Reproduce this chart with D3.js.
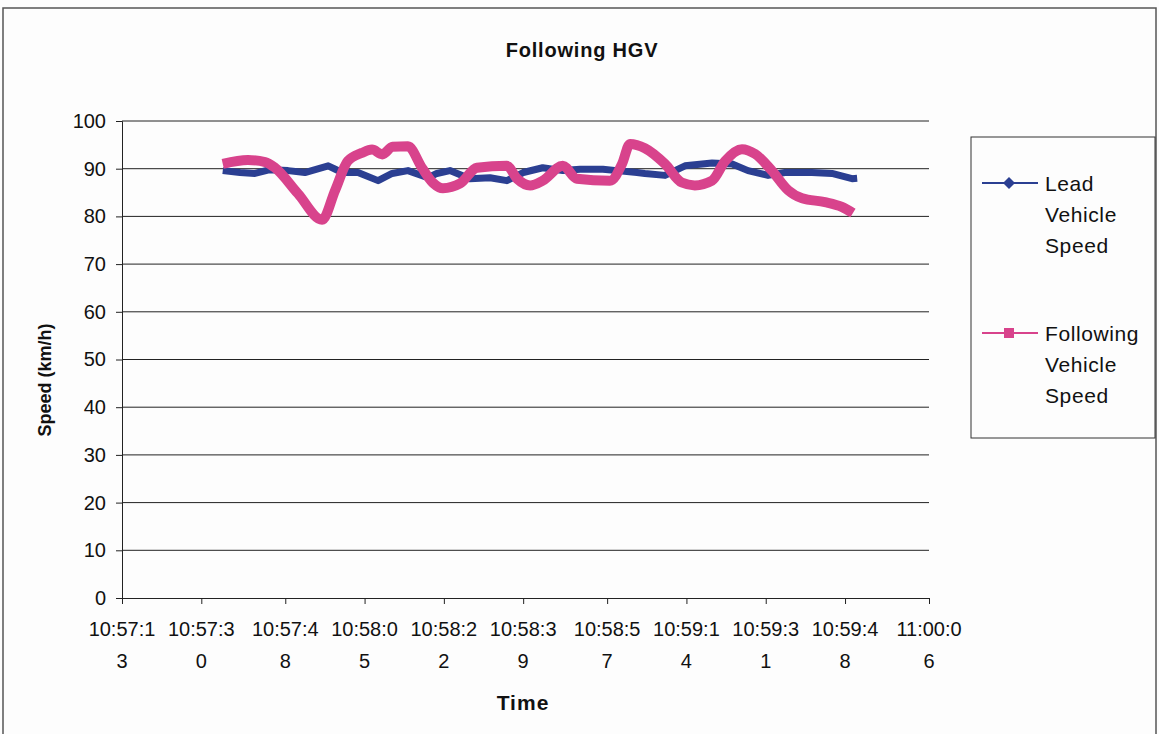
<!DOCTYPE html>
<html>
<head>
  <meta charset="utf-8">
  <script src="https://d3js.org/d3.v7.min.js"></script>
  <style>
    body { margin: 0; background: #fdfdfd; }
    text { font-family: Arial, "Liberation Sans", sans-serif; fill: #111; }
  </style>
</head>
<body>
<script>
  // tick labels on the time axis (Excel wraps them after 7 chars)
  var timeLabels = ["10:57:13", "10:57:30", "10:57:48", "10:58:05", "10:58:22", "10:58:39",
                    "10:58:57", "10:59:14", "10:59:31", "10:59:48", "11:00:06"];
  var speedTicks = [0, 10, 20, 30, 40, 50, 60, 70, 80, 90, 100];

  // seconds after 10:57:13, speed in km/h
  var leadT = [21.6, 25.3, 28.5, 31.7, 35.6, 39.2, 44.2, 47.2, 50.6, 54.9, 57.9, 61.3, 65.6,
               67.5, 70.3, 74.6, 78.9, 82.5, 86.0, 90.2, 94.5, 98.2, 103.1, 106.1, 110.4,
               112.1, 116.4, 120.7, 126.5, 130.8, 134.2, 138.5, 142.1, 147.9, 152.2, 156.5, 157.6];
  var leadV = [89.6, 89.2, 89.0, 89.8, 89.6, 89.2, 90.6, 89.2, 89.2, 87.5, 89.0, 89.6, 88.1,
               89.0, 89.6, 87.9, 88.1, 87.5, 89.2, 90.2, 89.6, 89.9, 89.9, 89.6, 89.2,
               89.0, 88.6, 90.6, 91.2, 91.0, 89.6, 88.6, 89.2, 89.2, 89.0, 87.9, 88.0];

  var followT = [21.6, 27.0, 30.7, 32.8, 37.7, 42.9, 45.7, 48.4, 51.4, 53.6, 55.8, 58.0, 61.3,
                 64.3, 66.7, 68.8, 72.5, 76.1, 82.5, 84.7, 87.5, 90.2, 94.5, 97.5, 104.6, 107.2,
                 108.9, 112.1, 116.4, 120.0, 122.8, 126.5, 129.3, 132.9, 135.7, 139.3, 142.8,
                 145.8, 150.7, 154.3, 156.7];
  var followV = [91.0, 91.8, 91.4, 90.2, 84.8, 79.3, 85.5, 91.6, 93.3, 94.0, 93.0, 94.6, 94.7,
                 90.2, 87.0, 85.9, 86.9, 90.2, 90.6, 87.9, 86.5, 87.5, 90.6, 87.9, 87.5, 91.0,
                 95.2, 94.3, 91.0, 87.1, 86.5, 87.5, 91.6, 94.1, 93.1, 89.6, 85.5,
                 83.8, 83.0, 82.0, 80.7];

  var seriesNames = [["Lead", "Vehicle", "Speed"], ["Following", "Vehicle", "Speed"]];
  var colors = ["#2b3f92", "#d8438c"];

  var W = 1159, H = 734;
  var svg = d3.select("body").append("svg")
      .attr("width", W)
      .attr("height", H);

  // chart frame
  svg.append("rect")
      .attr("x", 3).attr("y", 8)
      .attr("width", 1153).attr("height", 740)
      .attr("fill", "#fdfdfd")
      .attr("stroke", "#555").attr("stroke-width", 1.5);

  function toSec(s) {
    var p = s.split(":").map(Number);
    return (p[0] * 3600 + p[1] * 60 + p[2]) - (10 * 3600 + 57 * 60 + 13);
  }
  var tickSecs = timeLabels.map(toSec);

  var x = d3.scaleLinear().domain([0, 173]).range([122, 929]);
  var y = d3.scaleLinear().domain([0, 100]).range([598, 121]);

  // gridlines
  svg.append("g").selectAll("line")
      .data(speedTicks.slice(1))
      .enter().append("line")
      .attr("x1", 122).attr("x2", 929)
      .attr("y1", function(d) { return y(d); })
      .attr("y2", function(d) { return y(d); })
      .attr("stroke", "#222").attr("stroke-width", 1);

  // y axis
  var yAxis = svg.append("g")
      .attr("transform", "translate(122,0)")
      .call(d3.axisLeft(y).tickValues(speedTicks).tickSize(6).tickPadding(10));
  yAxis.selectAll("text").style("font-size", "20px").attr("fill", "#111");
  yAxis.selectAll("line, path").attr("stroke", "#222");

  // x axis
  var xAxis = svg.append("g")
      .attr("transform", "translate(0,598)")
      .call(d3.axisBottom(x).tickValues(tickSecs).tickSize(6).tickFormat(""));
  xAxis.selectAll("line, path").attr("stroke", "#222");

  var lab = svg.append("g").selectAll("text")
      .data(timeLabels)
      .enter().append("text")
      .attr("text-anchor", "middle")
      .style("font-size", "20px");
  lab.append("tspan")
      .attr("x", function(d) { return x(toSec(d)); })
      .attr("y", 636)
      .text(function(d) { return d.slice(0, 7); });
  lab.append("tspan")
      .attr("x", function(d) { return x(toSec(d)); })
      .attr("y", 668)
      .text(function(d) { return d.slice(7); });

  // titles
  svg.append("text")
      .attr("x", 582).attr("y", 57)
      .attr("text-anchor", "middle")
      .style("font-size", "20px").style("font-weight", "bold")
      .style("letter-spacing", "0.8px")
      .text("Following HGV");

  svg.append("text")
      .attr("x", 523).attr("y", 710)
      .attr("text-anchor", "middle")
      .style("font-size", "21px").style("font-weight", "bold")
      .style("letter-spacing", "1px")
      .text("Time");

  svg.append("text")
      .attr("transform", "translate(51,380) rotate(-90)")
      .attr("text-anchor", "middle")
      .style("font-size", "18px").style("font-weight", "bold")
      .text("Speed (km/h)");

  // series
  var line = d3.line()
      .x(function(d) { return x(d[0]); })
      .y(function(d) { return y(d[1]); });
  var smooth = d3.line()
      .curve(d3.curveMonotoneX)
      .x(function(d) { return x(d[0]); })
      .y(function(d) { return y(d[1]); });

  var leadData = d3.zip(leadT, leadV);
  var followData = d3.zip(followT, followV);

  svg.append("path")
      .datum(leadData)
      .attr("d", line)
      .attr("fill", "none")
      .attr("stroke", colors[0])
      .attr("stroke-width", 7)
      .attr("stroke-linejoin", "round");

  svg.append("path")
      .datum(followData)
      .attr("d", smooth)
      .attr("fill", "none")
      .attr("stroke", colors[1])
      .attr("stroke-width", 10)
      .attr("stroke-linejoin", "round");

  // legend
  svg.append("rect")
      .attr("x", 971).attr("y", 137)
      .attr("width", 184).attr("height", 301)
      .attr("fill", "#fdfdfd")
      .attr("stroke", "#333").attr("stroke-width", 1);

  var legend = svg.append("g").selectAll("g")
      .data(seriesNames)
      .enter().append("g")
      .attr("transform", function(d, i) { return "translate(0," + (183 + i * 150) + ")"; });

  legend.append("line")
      .attr("x1", 982).attr("x2", 1038)
      .attr("stroke", function(d, i) { return colors[i]; })
      .attr("stroke-width", 2);

  legend.append("path")
      .attr("transform", "translate(1009,0)")
      .attr("d", function(d, i) {
        return i == 0 ? "M0,-6L6,0L0,6L-6,0Z" : "M-5,-5H5V5H-5Z";
      })
      .attr("fill", function(d, i) { return colors[i]; });

  legend.append("text")
      .style("font-size", "21px")
      .style("letter-spacing", "0.6px")
      .selectAll("tspan")
      .data(function(d) { return d; })
      .enter().append("tspan")
      .attr("x", 1045)
      .attr("y", function(d, i) { return 8 + i * 31; })
      .text(function(d) { return d; });
</script>
</body>
</html>
